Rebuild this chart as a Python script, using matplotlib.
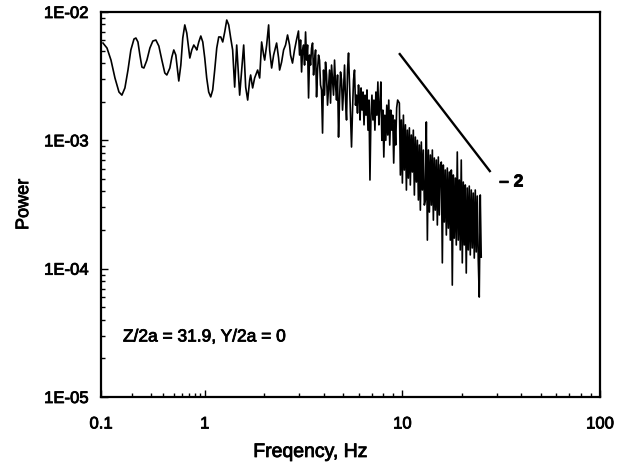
import numpy as np
import matplotlib
matplotlib.use("Agg")
import matplotlib.pyplot as plt
import matplotlib.patheffects as pe
from matplotlib.ticker import FixedLocator, NullFormatter, LogLocator

plt.rcParams['font.family'] = ['Liberation Sans', 'DejaVu Sans']

# power spectrum in pieces: frequency in Hz, power in units of 1E-03
freq_low = [
    0.1045, 0.1142, 0.1248, 0.1363, 0.149, 0.159, 0.170, 0.182, 0.194, 0.208,
    0.217, 0.227, 0.237, 0.248, 0.259, 0.277, 0.296, 0.316, 0.338, 0.361,
    0.386, 0.412, 0.431, 0.461, 0.482, 0.503, 0.526, 0.550, 0.562, 0.588,
    0.614, 0.642, 0.671, 0.702, 0.718, 0.750, 0.784, 0.819, 0.838, 0.876,
    0.916, 0.957, 1.0, 1.023, 1.047, 1.072, 1.097, 1.123, 1.150, 1.177,
    1.205, 1.233, 1.262, 1.292, 1.322, 1.353,
]
power_low = [
    5.73, 5.24, 4.22, 3.06, 2.38, 2.25, 2.56, 3.53, 5.06, 6.16,
    6.27, 5.84, 4.62, 3.72, 3.66, 4.22, 5.24, 5.94, 6.05, 5.43,
    4.22, 3.35, 3.23, 3.66, 4.46, 5.06, 4.62, 3.41, 2.90, 3.86,
    6.27, 7.93, 6.86, 5.06, 4.38, 5.06, 5.53, 5.24, 5.06, 5.84,
    6.50, 5.84, 4.38, 3.06, 2.38, 2.18, 2.47, 3.53, 5.24, 6.39,
    6.39, 5.84, 6.99, 8.66, 7.93, 6.27,
]

freq_b = [
    1.384, 1.417, 1.451, 1.502, 1.537, 1.574, 1.611, 1.649, 1.688, 1.707,
    1.747, 1.788, 1.852, 1.896, 1.940, 1.986, 2.010, 2.057, 2.105, 2.130,
    2.180, 2.231, 2.310, 2.364, 2.392, 2.448, 2.506, 2.564, 2.624, 2.686,
    2.717, 2.780, 2.846, 2.912, 2.980,
]
power_b = [
    5.06, 2.60, 5.53, 2.25, 3.53, 5.53, 2.60, 2.06, 2.95, 3.23,
    2.56, 3.06, 3.53, 3.06, 5.84, 4.62, 4.22, 5.53, 7.93, 5.06,
    3.66, 4.62, 5.73, 4.38, 3.53, 4.07, 5.06, 5.53, 6.62, 5.53,
    4.62, 4.00, 5.06, 6.05, 7.11,
]

freq_c = [
    3.018, 3.054, 3.090, 3.126, 3.163, 3.199, 3.237, 3.275, 3.313, 3.352,
    3.391, 3.431, 3.471, 3.512, 3.553, 3.594, 3.637, 3.679, 3.722, 3.765,
    3.809, 3.854, 3.899, 3.945, 3.991, 4.037, 4.085, 4.133, 4.181, 4.230,
    4.280, 4.330, 4.381, 4.432, 4.484, 4.537, 4.590, 4.644, 4.698, 4.753,
    4.809, 4.865, 4.922, 4.980, 5.038, 5.097, 5.157, 5.217, 5.278, 5.340,
    5.402, 5.465, 5.529, 5.594, 5.659, 5.725, 5.792, 5.860, 5.929, 5.998,
    6.068,
]
power_c = [
    4.62, 6.05, 3.41, 5.06, 5.53, 3.86, 6.99, 4.22, 5.53, 2.14,
    4.62, 3.86, 5.24, 5.73, 3.23, 4.22, 5.06, 2.18, 3.53, 4.62,
    4.22, 2.70, 2.47, 1.14, 3.53, 2.25, 4.07, 3.23, 1.88, 2.56,
    3.53, 1.95, 3.86, 2.95, 2.25, 4.22, 2.70, 2.06, 3.23, 1.06,
    2.06, 3.41, 2.95, 1.72, 2.47, 3.86, 2.06, 1.44, 3.53, 4.79,
    2.70, 1.57, 0.887, 1.72, 2.95, 3.53, 1.88, 2.25, 1.63, 2.70,
    2.06,
]

freq_d = [
    6.108, 6.179, 6.250, 6.323, 6.396, 6.470, 6.545, 6.621, 6.698, 6.776,
    6.854, 6.934, 7.014, 7.096, 7.178, 7.261, 7.346, 7.431, 7.517, 7.604,
    7.692, 7.781, 7.872, 7.963, 8.055, 8.148, 8.243, 8.338, 8.435, 8.533,
    8.631, 8.731, 8.833, 8.935, 9.039, 9.143, 9.249, 9.356, 9.465,
]
power_d = [
    1.44, 2.56, 1.72, 2.38, 1.32, 2.25, 1.57, 2.47, 1.20, 2.06,
    0.491, 1.57, 2.25, 1.44, 2.06, 1.20, 2.38, 1.57, 2.85, 1.32,
    1.88, 2.85, 1.00, 1.72, 0.741, 1.57, 1.00, 1.88, 1.10, 2.06,
    0.919, 1.72, 1.20, 1.57, 0.665, 1.44, 0.919, 1.79, 2.06,
]

freq_high = [
    9.656, 9.77, 9.88, 10.0, 10.12, 10.23, 10.36, 10.48, 10.60, 10.72,
    10.85, 10.97, 11.10, 11.23, 11.36, 11.50, 11.63, 11.77, 11.91, 12.05,
    12.19, 12.33, 12.47, 12.62, 12.77, 12.92, 13.07, 13.22, 13.38, 13.54,
    13.70, 13.86, 14.02, 14.18, 14.35, 14.51, 14.68, 14.85, 15.03, 15.20,
    15.38, 15.56, 15.74, 15.93, 16.11, 16.30, 16.49, 16.69, 16.88, 17.08,
    17.28, 17.48, 17.69, 17.89, 18.10, 18.31, 18.53, 18.74, 18.96, 19.18,
    19.41, 19.63, 19.86, 20.10, 20.33, 20.57, 20.81, 21.05, 21.30, 21.55,
    21.80, 22.06, 22.32, 22.58, 22.84, 23.11, 23.38, 23.65, 23.93, 24.21,
    24.49, 24.78, 25.06,
]
power_high = [
    1.95, 0.537, 1.44, 0.465, 1.57, 0.587, 1.32, 0.410, 1.20, 0.508,
    1.25, 0.449, 1.10, 0.566, 1.20, 0.375, 1.06, 0.473, 1.00, 0.343,
    0.919, 0.286, 0.970, 0.410, 0.840, 0.313, 0.343, 1.39, 0.167, 0.840,
    0.276, 0.768, 0.313, 0.840, 0.239, 0.728, 0.286, 0.702, 0.219, 0.741,
    0.262, 0.642, 0.677, 0.111, 0.642, 0.231, 0.587, 0.183, 0.608, 0.207,
    0.566, 0.167, 0.587, 0.0745, 0.537, 0.173, 0.508, 0.153, 0.811, 0.167,
    0.491, 0.140, 0.702, 0.111, 0.473, 0.153, 0.449, 0.0925, 0.425, 0.140,
    0.440, 0.128, 0.410, 0.145, 0.388, 0.121, 0.410, 0.135, 0.368, 0.117,
    0.0601, 0.375, 0.123,
]

# -2 slope guide line
slope_f = [9.7, 27.7]
slope_p = [4.7e-3, 5.76e-4]

x_major = [0.1, 1, 10, 100]
x_labels = ['0.1', '1', '10', '100']
y_major = [1e-5, 1e-4, 1e-3, 1e-2]
y_labels = ['1E-05', '1E-04', '1E-03', '1E-02']

# the 0.1-1 Hz decade is drawn narrower than the others
SQUEEZE = 0.525


def fwd(x):
    x = np.clip(np.asarray(x, dtype=float), 1e-6, None)
    lg = np.log10(x)
    return np.where(lg < 0, lg * SQUEEZE, lg)


def inv(y):
    y = np.asarray(y, dtype=float)
    return np.where(y < 0, 10 ** (y / SQUEEZE), 10 ** y)


freq = np.concatenate([freq_low, freq_b, freq_c, freq_d, freq_high])
power = np.concatenate([power_low, power_b, power_c, power_d, power_high]) * 1e-3

fig = plt.figure(figsize=(6.24, 4.66), dpi=100)
ax = fig.add_axes([101 / 624, 1 - 397 / 466, 499 / 624, 385 / 466])

ax.plot(freq, power, color='black', lw=1.2)
ax.plot(slope_f, slope_p, color='black', lw=1.7)

ax.set_xscale('function', functions=(fwd, inv))
ax.set_yscale('log')
ax.set_xlim(0.1, 100)
ax.set_ylim(1e-5, 1e-2)

x_minor = [m * d for d in (0.1, 1, 10) for m in range(2, 10)]
ax.xaxis.set_major_locator(FixedLocator(x_major))
ax.xaxis.set_minor_locator(FixedLocator(x_minor))
ax.set_xticks(x_major, x_labels)
ax.xaxis.set_minor_formatter(NullFormatter())
ax.set_yticks(y_major, y_labels)
ax.yaxis.set_minor_locator(LogLocator(base=10, subs=range(2, 10)))
ax.yaxis.set_minor_formatter(NullFormatter())

ax.tick_params(which='both', direction='in', top=False, right=False,
               width=1, labelsize=12)
ax.tick_params(axis='x', which='major', length=5, pad=14)
ax.tick_params(axis='y', which='major', length=5, pad=9)
ax.tick_params(which='minor', length=3)

for s in ax.spines.values():
    s.set_linewidth(1.6)

# heavier strokes on the lettering
heavy = [pe.withStroke(linewidth=0.6, foreground='black')]
for lbl in ax.get_xticklabels() + ax.get_yticklabels():
    lbl.set_path_effects(heavy)

ax.set_xlabel('Freqency, Hz', fontsize=14, path_effects=heavy)
ax.xaxis.set_label_coords(0.42, -0.122)
ax.set_ylabel('Power', fontsize=13, path_effects=heavy)
ax.yaxis.set_label_coords(-0.138, 0.5)

ax.text(0.044, 0.156, 'Z/2a = 31.9, Y/2a = 0', transform=ax.transAxes,
        fontsize=12.5, va='center', ha='left', path_effects=heavy)
ax.text(30.9, 4.73e-4, '\u2013 2', fontsize=12.5, fontweight='bold',
        va='center', ha='left', path_effects=heavy)

fig.savefig('out.png', dpi=100)
